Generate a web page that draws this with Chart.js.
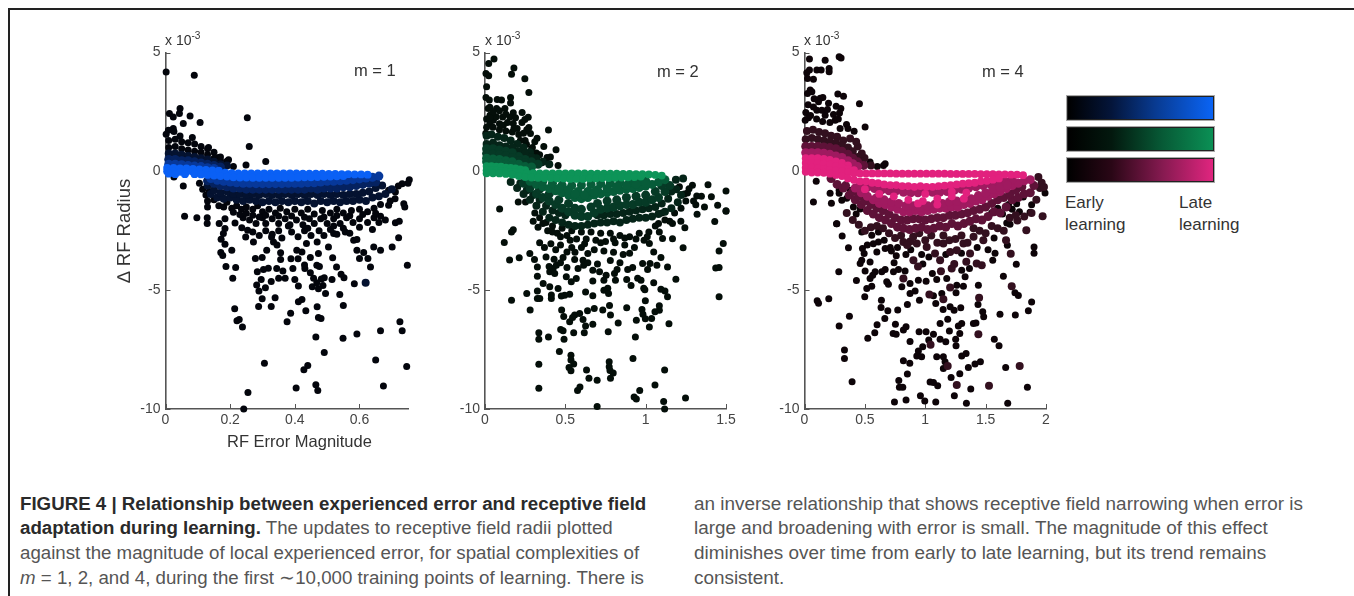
<!DOCTYPE html>
<html><head><meta charset="utf-8">
<script src="https://cdn.jsdelivr.net/npm/chart.js@4"></script>
<style>
html,body{margin:0;padding:0;background:#fff;width:1354px;height:596px;overflow:hidden;font-family:"Liberation Sans",Arial,sans-serif}
canvas{position:absolute;filter:blur(.45px)}
.t{position:absolute;white-space:nowrap;color:#333}
.cap{position:absolute;white-space:nowrap;font-size:18.7px;color:#555;line-height:24.7px}
.cap b{color:#2a2a2a}
.bar{position:absolute;left:1067px;width:145px;height:22px;border:1px solid #222;outline:1px solid #aaa}
sup{font-size:.72em;line-height:0}
</style></head><body>
<div style="position:absolute;left:8px;top:8px;width:1346px;height:2px;background:#222"></div>
<div style="position:absolute;left:8px;top:8px;width:2px;height:588px;background:#222"></div>

<canvas id="c1" width="310" height="420" style="left:110px;top:30px"></canvas>
<canvas id="c2" width="290" height="420" style="left:450px;top:30px"></canvas>
<canvas id="c3" width="290" height="420" style="left:770px;top:30px"></canvas>

<div class="t" style="left:165px;top:32px;font-size:14px">x 10<sup>-3</sup></div>
<div class="t" style="left:485px;top:32px;font-size:14px">x 10<sup>-3</sup></div>
<div class="t" style="left:804px;top:32px;font-size:14px">x 10<sup>-3</sup></div>
<div class="t" style="left:354px;top:61px;font-size:16.5px">m = 1</div>
<div class="t" style="left:657px;top:62px;font-size:16.5px">m = 2</div>
<div class="t" style="left:982px;top:62px;font-size:16.5px">m = 4</div>
<div class="t" style="left:227px;top:432px;font-size:16.5px">RF Error Magnitude</div>

<div class="bar" style="top:96px;background:linear-gradient(90deg,#000 0%,#04153a 30%,#083a90 60%,#0a64f5 100%)"></div>
<div class="bar" style="top:127px;background:linear-gradient(90deg,#000 0%,#03180e 30%,#075a36 65%,#0b9055 100%)"></div>
<div class="bar" style="top:158px;background:linear-gradient(90deg,#000 0%,#2a0716 30%,#851a50 65%,#e0257f 100%)"></div>
<div class="t" style="left:1065px;top:192px;font-size:17px;line-height:22px">Early<br>learning</div>
<div class="t" style="left:1179px;top:192px;font-size:17px;line-height:22px">Late<br>learning</div>

<div class="cap" style="left:20px;top:491.5px"><b>FIGURE 4 | Relationship between experienced error and receptive field<br>adaptation during learning.</b> The updates to receptive field radii plotted<br>against the magnitude of local experienced error, for spatial complexities of<br><i>m</i> = 1, 2, and 4, during the first ∼10,000 training points of learning. There is</div>
<div class="cap" style="left:694px;top:491.5px;font-size:18.9px">an inverse relationship that shows receptive field narrowing when error is<br>large and broadening with error is small. The magnitude of this effect<br>diminishes over time from early to late learning, but its trend remains<br>consistent.</div>

<script>
// ---------- m = 1 : [RF error magnitude, delta RF radius x 1e-3], by learning stage
const m1Early = [[.002,4.18],[.089,4.04],[.045,2.64],[.012,2.43],[.024,2.29],[.043,2.43],[.076,2.33],[.107,2.05],[.055,2.01],[.024,1.8],[.009,1.73],[.002,1.56],[.026,1.68],[.045,1.49],[.083,1.42],[.253,2.25],[.259,1.05],[.249,.27],[.31,.41],[.195,.49],[.164,.58],[.133,1],
[.01,1.3],[.03,1.35],[.05,1.25],[.07,1.2],[.09,1.15],[.11,1.05],[.13,.95],[.15,.8],[.17,.6],[.19,.42],[.01,1],[.03,1.05],[.05,.95],[.07,.9],[.09,.85],[.11,.8],[.13,.7],[.15,.55],[.17,.45],[.21,.2],
[.026,-.24],[.055,-.62],[.754,-.35],[.75,-.5],[.732,-.52],[.72,-.62],[.711,-.87],[.69,-.8],[.69,-1.43],[.71,-1.15],[.737,-1.36],[.74,-1.5],
[.059,-1.89],[.097,-1.95],[.129,-1.95],[.129,-2.2],[.166,-2.2],[.184,-1.99],[.215,-2.17],[.184,-2.41],[.179,-2.62],[.172,-2.86],[.184,-3.07],[.205,-3.32],[.171,-3.42],[.177,-3.54],[.187,-4],[.217,-4.05],[.208,-4.5],[.214,-5.78],[.221,-6.29],[.228,-6.23],[.238,-6.55],[.255,-9.31],[.242,-10],[.306,-8.08],[.404,-9.12],[.428,-8.35],[.44,-8.17],[.465,-6.97],[.465,-8.98],[.471,-9.22],[.491,-7.62],[.549,-7.02],[.592,-6.84],[.65,-7.94],[.665,-6.71],[.674,-9.03],[.725,-6.33],[.732,-6.71],[.746,-8.21],[.748,-3.95],
[.584,-4.73],[.552,-4.48],[.543,-4.33],[.529,-4.02],[.517,-3.64],[.515,-4.55],[.491,-4.48],[.482,-4.53],[.487,-4.8],[.473,-4.94],[.495,-5.14],[.454,-4.86],[.468,-4.69],[.458,-4.5],[.448,-4.27],[.431,-4.09],[.43,-3.94],[.468,-3.95],[.476,-4],[.539,-5.18],[.55,-5.64],[.469,-5.7],[.473,-6.15],[.481,-6.19],[.434,-5.87],[.422,-5.39],[.411,-5.49],[.411,-4.82],[.4,-4.55],[.394,-4.09],[.388,-3.68],[.41,-3.68],[.37,-4.5],[.35,-4.5],[.363,-4.19],[.344,-4.09],[.318,-4.08],[.303,-4.13],[.284,-4.22],[.278,-3.67],[.299,-3.63],[.356,-3.43],[.356,-3.71],[.296,-4.55],[.282,-4.78],[.309,-4.9],[.289,-5.04],[.327,-4.64],[.299,-5.36],[.339,-5.32],[.288,-5.69],[.327,-5.69],[.387,-5.97],[.376,-6.33],
[.406,-3.32],[.422,-3.39],[.448,-3.63],[.473,-3.46],[.436,-3.04],[.469,-2.97],[.504,-3.18],[.52,-2.62],[.556,-2.55],[.582,-2.9],[.592,-2.87],[.592,-3.32],[.613,-3.42],[.6,-3.67],[.626,-3.67],[.634,-4.03],[.644,-3.18],[.665,-3.32],[.701,-3.18],[.721,-2.79],[.711,-2.16],[.723,-2.1],[.665,-1.89],[.272,-2.97],[.248,-2.76],[.254,-2.48],[.236,-2.37],[.334,-2.97],[.328,-2.76],[.313,-3.32],[.345,-3.1],
[.105,-.5],[.115,-.75],[.125,-1],[.135,-.85],[.13,-1.25],[.13,-1.5],[.15,-1.2],[.165,-1.45],[.18,-1.5],[.19,-1.3],[.205,-1.55],[.22,-1.45],[.235,-1.6],[.25,-1.5],[.27,-1.6],[.285,-1.45],[.3,-1.7],[.32,-1.6],[.34,-1.75],[.355,-1.55],[.375,-1.7],[.4,-1.6],[.42,-1.75],[.44,-1.6],[.46,-1.8],[.485,-1.65],[.51,-1.75],[.53,-1.6],[.55,-1.75],[.575,-1.65],[.6,-1.6],[.625,-1.7],[.645,-1.55],[.665,-1.4],[.695,-1.25],
[.24,-1.95],[.26,-2.05],[.28,-2.2],[.3,-1.95],[.31,-2.2],[.33,-2],[.35,-2.2],[.37,-2],[.385,-2.25],[.405,-2.05],[.425,-2.25],[.445,-2],[.46,-2.2],[.48,-2],[.5,-2.2],[.52,-2],[.54,-2.2],[.56,-1.95],[.58,-2.15],[.6,-2],[.625,-2.15],[.645,-1.95],[.66,-2.15],
[.27,-2.55],[.29,-2.7],[.31,-2.5],[.33,-2.65],[.35,-2.5],[.36,-2.8],[.39,-2.55],[.41,-2.75],[.43,-2.5],[.45,-2.7],[.475,-2.5],[.49,-2.7],[.51,-2.45],[.53,-2.65],[.55,-2.4],[.57,-2.6],
[.21,-1.72],[.23,-1.82],[.25,-1.76],[.27,-1.85],[.29,-1.92],[.31,-1.85],[.35,-1.88],[.39,-1.88],[.43,-1.93],[.49,-1.92],[.53,-1.86],[.57,-1.87],[.61,-1.82],[.65,-1.76],[.38,-2.3],[.44,-2.4],[.52,-2.3],[.6,-2.35],[.64,-2.45],[.68,-2.05]];
const m1Dark = [[.619,-4.69],[.01,.75],[.03,.75],[.05,.7],[.07,.65],[.09,.6],[.11,.55],[.13,.5],[.15,.4],[.17,.3],[.19,.25],
[.14,-.95],[.16,-1.1],[.18,-1.15],[.2,-1.1],[.22,-1.2],[.24,-1.25],[.26,-1.2],[.28,-1.25],[.3,-1.3],[.32,-1.25],[.34,-1.3],[.36,-1.25],[.38,-1.3],[.4,-1.25],[.42,-1.3],[.44,-1.25],[.46,-1.35],[.48,-1.25],[.5,-1.3],[.52,-1.25],[.54,-1.3],[.56,-1.25],[.58,-1.25],[.6,-1.2],[.62,-1.25],[.64,-1.1],[.66,-1.05],[.68,-.95],[.7,-.75],[.67,-.6],[.65,-.7],
[.13,-.6],[.15,-.8],[.17,-.9],[.19,-.85],[.21,-.95],[.23,-.95],[.25,-1],[.27,-.95],[.29,-1],[.31,-.95],[.33,-1],[.35,-1],[.37,-.95],[.39,-1],[.41,-.95],[.43,-1],[.45,-.95],[.47,-1],[.49,-.95],[.51,-1],[.53,-.95],[.55,-1],[.57,-.95],[.59,-.95],[.61,-.9],[.63,-.85]];
const m1Mid = [[.01,.5],[.03,.5],[.05,.45],[.07,.45],[.09,.4],[.11,.35],[.13,.3],[.15,.25],[.17,.18],
[.13,-.4],[.15,-.5],[.17,-.6],[.19,-.65],[.21,-.7],[.23,-.7],[.25,-.75],[.27,-.75],[.29,-.75],[.31,-.75],[.33,-.75],[.35,-.75],[.37,-.75],[.39,-.75],[.41,-.75],[.43,-.75],[.45,-.7],[.47,-.75],[.49,-.7],[.51,-.7],[.53,-.7],[.55,-.65],[.57,-.65],[.59,-.6],[.61,-.55],[.63,-.5],[.65,-.45]];
const m1Bright = [[.01,.3],[.03,.3],[.05,.28],[.07,.25],[.09,.22],[.11,.2],[.13,.15],[.15,.12],
[.14,-.3],[.16,-.38],[.18,-.42],[.2,-.45],[.22,-.48],[.24,-.5],[.26,-.5],[.28,-.52],[.3,-.52],[.32,-.52],[.34,-.52],[.36,-.52],[.38,-.5],[.4,-.5],[.42,-.5],[.44,-.48],[.46,-.48],[.48,-.45],[.5,-.42],[.52,-.42],[.54,-.4],[.56,-.38],[.58,-.35],[.6,-.32],[.62,-.28],[.64,-.25],[.66,-.2]];
const m1Late = [[.005,.14],[.025,.14],[.045,.12],[.065,.12],[.085,.1],[.105,.08],[.125,.06],[.145,.04],[.165,.03],
[.005,0],[.025,0],[.045,-.02],[.065,-.02],[.085,-.02],[.105,-.03],[.125,-.03],[.145,-.05],[.165,-.05],[.185,-.06],[.205,-.08],[.225,-.09],[.245,-.09],[.265,-.09],[.285,-.09],[.305,-.09],[.325,-.09],[.345,-.09],[.365,-.09],[.385,-.09],[.405,-.09],[.425,-.1],[.445,-.1],[.465,-.1],[.485,-.1],[.505,-.11],[.525,-.11],[.545,-.12],[.565,-.12],[.585,-.13],[.605,-.13],[.625,-.14],
[.01,-.1],[.03,-.12],[.06,-.12],[.09,-.12],[.11,-.13],[.13,-.15],[.15,-.18],[.17,-.2],[.19,-.22],[.21,-.25],[.23,-.26],[.25,-.26],[.27,-.27],[.29,-.27],[.31,-.27],[.33,-.27],[.35,-.27],[.37,-.27],[.39,-.27],[.41,-.26],[.43,-.25],[.45,-.25],[.47,-.24],[.49,-.23],[.51,-.22],[.53,-.21],[.55,-.2]];

// ---------- m = 2
const m2Early = [[.056,4.73],[.023,4.54],[.18,4.35],[.165,4.09],[.006,4.12],[.023,4.02],[.248,3.9],[.01,3.56],[.273,3.32],[.006,3.11],[.027,3],[.076,3.02],[.103,3],[.159,3.11],[.159,2.88],[.072,2.64],[.124,2.64],[.02,2.64],[.176,2.46],[.231,2.48],[.269,2.28],[.248,2.18],[.155,2.29],[.11,2.29],[.031,2.36],[.052,2.15],[.114,1.94],[.176,2.01],[.273,1.84],[.395,1.74],[.283,1.59],[.324,1.39],[.31,1.24],[.258,1.14],[.366,1.05],[.295,1],[.442,.91],[.32,.77],[.407,.6],[.386,.58],[.455,.25],[.316,.6],
[.01,2.2],[.03,2],[.07,2.3],[.09,2],[.14,2.05],[.2,1.8],[.01,1.85],[.05,1.85],[.09,1.75],[.13,1.7],[.17,1.65],[.21,1.55],[.005,1.6],[.25,1.3],[.22,1.3],[.29,.95],[.34,.7],[.38,.45],[.35,.35],
[.091,-1.58],[.207,-1.29],[.252,-1.29],[.12,-2.99],[.153,-3.73],[.213,-3.64],[.176,-2.46],[.165,-2.55],[.165,-5.42],[.26,-5.14],[.281,-5.83],[.326,-5.35],[.341,-5.35],[.326,-5.04],[.335,-6.79],[.335,-7.06],[.395,-6.97],[.335,-8.12],[.335,-9.13],[.463,-7.58],[.535,-7.74],[.535,-7.94],[.552,-8.11],[.523,-8.25],[.535,-8.39],[.632,-8.36],[.647,-8.71],[.698,-8.79],[.576,-9.22],[.591,-9.07],[.698,-9.9],[.773,-8.01],[.773,-8.22],[.778,-8.38],[.798,-8.49],[.781,-8.71],[.921,-7.88],[.963,-9.22],[1.058,-8.99],[1.118,-8.36],[.928,-9.5],[.942,-9.58],[1.112,-9.68],[1.118,-10],[1.248,-9.54],
[.477,-5.83],[.49,-6.11],[.558,-6.05],[.589,-5.98],[.638,-5.87],[.68,-5.77],[.733,-5.83],[.775,-5.64],[.781,-6.05],[.527,-6.33],[.545,-6.15],[.61,-6.23],[.626,-6.51],[.671,-6.43],[.829,-6.38],[.471,-6.65],[.486,-6.71],[.552,-6.79],[.618,-6.79],[.492,-7.06],[.767,-6.75],[.882,-5.74],[.977,-5.81],[.983,-6.01],[.998,-6.2],[.998,-5.45],[.942,-6.27],[.936,-6.97],[1.023,-6.55],[1.037,-6.19],[1.058,-5.91],[1.085,-5.66],[1.085,-5.85],[1.145,-6.41],[1.136,-5.28],[1.12,-5.04],[1.095,-4.96],[1.188,-4.54],[1.05,-4.69],[.988,-4.92],[.995,-4.98],[.971,-4.58],[.95,-4.5],[.909,-4.8],[.882,-4.55],[.812,-4.58],[.764,-4.92],[.74,-5],[.769,-5.14],[.671,-5.24],[.626,-5.08],[.527,-5.17],[.496,-5.21],[.475,-5.25],[.413,-5.35],[.413,-5.2],[.455,-4.93],[.403,-4.86],[.362,-4.72],[.326,-4.41],[.326,-4.03],[.308,-3.71],[.279,-3.46],
[.403,-4.23],[.424,-4.09],[.434,-4.3],[.399,-4],[.444,-3.95],[.51,-4.05],[.486,-3.63],[.51,-3.39],[.558,-3.71],[.61,-3.74],[.64,-3.46],[.579,-4.09],[.614,-3.95],[.506,-4.44],[.537,-4.65],[.568,-4.51],[.671,-4.16],[.713,-4.23],[.754,-4.37],[.74,-4.58],[.671,-4.61],[.806,-4.3],[.822,-4.13],[.888,-4.13],[.919,-4.05],[.981,-3.88],[1.012,-4.13],[1.027,-3.88],[1.07,-3.95],[1.136,-4.03],[1.095,-3.63],[1.05,-3.39],[1.023,-3.04],[1.233,-3.22],[1.167,-2.84],[1.105,-2.83],[1.085,-2.55],[1.167,-2.2],[1.244,-2.37],[1.219,-2.1],[1.43,-2.11],[1.483,-3.04],[1.457,-3.35],[1.436,-4.07],[1.457,-4.05],[1.457,-5.28],[1.32,-1.81],[1.5,-1.68],
[1.291,-.59],[1.27,-.73],[1.26,-.91],[1.388,-.56],[1.5,-.83],[1.318,-1.04],[1.347,-1.05],[1.409,-1.07],[1.298,-1.25],[1.312,-1.41],[1.366,-1.5],[1.448,-1.43],[1.5,-1.66],[1.15,-2.1],
[.3,-2.1],[.33,-2.35],[.36,-2.2],[.39,-2.5],[.42,-2.3],[.45,-2.6],[.48,-2.4],[.51,-2.7],[.54,-2.5],[.57,-2.85],[.6,-2.55],[.63,-2.85],[.66,-2.55],[.69,-2.9],[.72,-2.6],[.75,-2.95],[.78,-2.6],[.81,-3],[.84,-2.7],[.87,-3.1],[.9,-2.75],[.93,-3.2],[.96,-2.6],[.99,-2.9],[1.02,-2.55],[1.06,-2.3],[.34,-3],[.37,-3.2],[.41,-3.05],[.44,-3.3],[.47,-3.1],[.54,-3.2],[.6,-3.2],[.68,-3.3],[.74,-3.35],[.8,-3.4],[.86,-3.5],[.9,-3.45],[.38,-3.6],[.43,-3.7],[.47,-3.85],[.56,-3.4],[.64,-3.85],[.7,-3.9],[.78,-3.75],[.84,-3.85],
[.31,-1.75],[.34,-1.95],[.38,-2.15],[.42,-2.55],[.47,-2.75],[.53,-2.9],[.62,-3.05],[.72,-3],[.8,-2.85],[.87,-2.8],[.94,-2.85],[1.01,-2.75],[1.08,-2.2],[1.12,-2.05],[1.1,-1.75],[1.18,-1.75],[1.22,-1.55],[1.25,-1.25],[1.24,-.95],[1.21,-.65],[.03,2.7],[.05,2.5],[.09,2.55],[.13,2.4],[.19,2.25],[.23,2.05],[.26,1.75],[.03,2.25],[.1,1.95],[.18,1.8],[.24,1.6]];
const m2Dark = [[.01,1.5],[.04,1.55],[.08,1.45],[.12,1.4],[.16,1.3],[.2,1.15],[.24,1],[.28,.8],[.32,.55],[.36,.4],[.4,.3],[.01,1.15],[.05,1.2],[.09,1.1],[.13,1.05],[.17,1],[.21,.85],[.25,.75],[.29,.6],
[.16,-.45],[.2,-.7],[.24,-.95],[.28,-1.2],[.32,-1.45],[.36,-1.7],[.4,-1.95],[.44,-2.05],[.48,-2.15],[.52,-2.25],[.56,-2.3],[.6,-2.3],[.64,-2.25],[.68,-2.2],[.72,-2.15],[.76,-2.15],[.8,-2.1],[.84,-2.15],[.88,-2.05],[.92,-2],[.96,-1.95],[1,-1.95],[1.04,-1.9],[1.08,-1.8],[1.12,-1.7],[1.16,-1.55],[1.2,-1.3],[1.22,-1],[1.19,-.75],[1.233,-.3],[1.188,-.35],
[.22,-.5],[.26,-.8],[.3,-1],[.34,-1.2],[.38,-1.45],[.42,-1.65],[.46,-1.75],[.5,-1.85],[.7,-1.85],[.74,-1.85],[.78,-1.8],[.82,-1.8],[.86,-1.75],[.9,-1.7],[.94,-1.65],[.98,-1.6],[1.02,-1.55],[1.06,-1.5],[1.1,-1.35],[1.14,-1.15],[1.16,-.85]];
const m2Mid = [[.01,.95],[.05,.95],[.09,.9],[.13,.85],[.17,.78],[.21,.62],[.25,.5],[.29,.4],[.33,.3],[.01,.75],[.05,.72],[.09,.7],[.13,.65],[.17,.58],[.21,.45],[.25,.35],
[.24,-.5],[.28,-.7],[.32,-.95],[.36,-1.1],[.4,-1.25],[.44,-1.4],[.48,-1.55],[.52,-1.7],[.56,-1.85],[.6,-1.9],[.64,-1.9],[.68,-1.75],[.72,-1.6],[.76,-1.55],[.8,-1.5],[.84,-1.45],[.88,-1.4],[.92,-1.4],[.96,-1.3],[1,-1.3],[1.04,-1.2],[1.08,-1.1],[1.12,-.85],[1.15,-.6],
[.34,-.75],[.4,-.95],[.46,-1.2],[.52,-1.35],[.56,-1.55],[.6,-1.6],[.66,-1.5],[.7,-1.35],[.76,-1.25],[.82,-1.2],[.88,-1.1],[.94,-1.05],[1,-1],[1.06,-.85],[1.1,-.6]];
const m2Bright = [[.01,.55],[.05,.52],[.09,.5],[.13,.45],[.17,.4],[.21,.3],[.25,.2],[.29,.18],[.01,.4],[.05,.38],[.09,.35],[.13,.3],[.17,.25],
[.28,-.42],[.32,-.55],[.36,-.65],[.4,-.72],[.44,-.82],[.48,-.9],[.52,-1],[.56,-1.1],[.6,-1.15],[.64,-1.1],[.68,-1],[.72,-.95],[.76,-.9],[.8,-.85],[.84,-.8],[.88,-.75],[.92,-.72],[.96,-.68],[1,-.62],[1.04,-.55],[1.08,-.45],[1.12,-.35],
[.36,-.42],[.42,-.5],[.48,-.58],[.54,-.6],[.6,-.58],[.66,-.55],[.72,-.52],[.78,-.5],[.84,-.48],[.9,-.45],[.96,-.42],[1,-.4],[.46,-.72],[.52,-.78],[.58,-.85],[.64,-.85],[.7,-.78],[.76,-.72],[.82,-.65],[.88,-.6],[.94,-.55],[1,-.5],[.56,-.95],[.62,-1],[.68,-.88]];
const m2Late = [[.01,.22],[.04,.22],[.07,.2],[.1,.2],[.13,.16],[.16,.14],[.19,.12],[.22,.08],[.25,.05],
[.01,.05],[.04,.05],[.07,.03],[.1,.02],[.13,0],[.16,-.02],[.19,-.03],[.22,-.06],[.26,-.08],[.3,-.08],[.34,-.09],[.38,-.09],[.42,-.09],[.46,-.09],[.5,-.09],[.54,-.09],[.58,-.09],[.62,-.09],[.66,-.1],[.7,-.1],[.74,-.1],[.78,-.1],[.82,-.1],[.86,-.11],[.9,-.11],[.94,-.12],[.98,-.12],[1.02,-.13],[1.06,-.15],[1.1,-.18],
[.01,-.08],[.05,-.08],[.09,-.09],[.13,-.11],[.17,-.14],[.21,-.2],[.25,-.24],[.29,-.26],[.33,-.27],[.37,-.28],[.41,-.28],[.45,-.3],[.49,-.3],[.53,-.32],[.57,-.32],[.61,-.32],[.65,-.3],[.69,-.3],[.73,-.28],[.77,-.28],[.81,-.27],[.85,-.26],[.89,-.25],[.93,-.24],[.97,-.22]];

// ---------- m = 4
const m4Early = [[.041,4.73],[.171,4.67],[.287,4.82],[.303,4.77],[.041,4.26],[.102,4.26],[.138,4.26],[.204,4.33],[.204,4.19],[.019,4.15],[.025,3.91],[.074,3.87],[.047,3.42],[.025,3.28],[.061,3.35],[.276,3.25],[.323,3.16],[.13,3.07],[.152,3.11],[.116,2.93],[.199,2.86],[.262,2.74],[.301,2.64],[.455,2.84],[.074,2.71],[.102,2.57],[.143,2.57],[.011,2.48],[.171,2.36],[.24,2.39],[.254,2.15],[.006,2.15],[.033,2.25],[.502,1.87],[.348,1.97],[.411,1.69],[.295,1.8],[.654,.25],[.668,.32],[.543,.39],[.603,.2],
[.097,-.42],[.226,-.31],[.212,-.92],[.287,-.8],[.287,-.92],[.074,-1.29],[.223,-1.34],[.309,-1.22],[.35,-1.13],[.378,-.8],[.405,-1.5],[.461,-1.58],[.428,-1.79],[.268,-2.21],[.265,-2.21],[.312,-2.72],[.364,-3.22],[.284,-4.23],[.43,-4.59],[.499,-5.28],[.105,-5.45],[.116,-5.55],[.201,-5.36],[.287,-6.51],[.372,-6.1],[.331,-7.52],[.331,-7.88],[.394,-8.85],[.524,-7.02],[.582,-6.79],[.601,-6.46],[.665,-6.19],[.634,-5.73],[.637,-5.42],[.69,-5.87],[.772,-5.83],[.753,-6.43],[.734,-6.82],[.759,-6.86],[.819,-6.68],[.841,-6.54],[.852,-5.6],[.952,-5.42],[.874,-7.16],[.949,-6.75],[1.007,-6.75],[1.068,-6.85],[1.029,-7.1],[.979,-7.38],[.943,-7.56],[.93,-7.77],[.97,-7.8],[.819,-7.97],[.872,-8.08],[.852,-8.53],[.781,-8.8],[.786,-9.08],[.814,-9.08],[.745,-9.71],[.841,-9.62],[.96,-9.44],[.996,-9.66],[1.087,-9.71],[1.04,-8.86],[1.068,-8.89],[1.103,-9.02],[1.095,-7.8],[1.15,-7.8],[1.164,-8.01],[1.15,-8.3],[1.214,-8.67],[1.286,-8.52],[1.241,-9.44],[1.377,-9.16],[1.341,-9.76],[1.683,-9.76],[1.846,-9.08],[1.666,-8.25],[1.457,-8.01],[1.412,-8.11],[1.357,-8.25],[1.302,-7.77],[1.338,-7.66],[1.611,-7.34],[1.572,-7.06],[1.123,-7.07],[1.17,-7.17],[1.255,-7.34],[1.252,-7.06],[1.286,-6.82],[1.274,-6.51],[1.302,-6.4],[1.2,-6.72],[1.123,-6.4],[1.186,-6.22],[1.399,-6.4],[1.42,-6.38],[1.484,-6.12],[1.476,-5.91],[1.437,-5.6],[1.44,-4.79],[1.619,-6.01],[1.746,-6.05],[1.854,-5.87],[1.881,-5.5],[1.771,-5.22],[1.743,-5.11],[1.647,-4.41],[1.754,-3.91],[1.901,-3.18],[1.901,-3.45],[1.68,-3.11],[1.559,-3.74],[1.578,-3.45],[1.57,-2.8],[1.702,-2.23],[1.675,-2.17],
[1.239,-5.84],[1.206,-5.7],[1.294,-5.74],[1.148,-5.81],[1.087,-5.56],[1.068,-5.24],[1.137,-5.14],[1.255,-5.11],[1.261,-4.79],[1.316,-4.83],[1.33,-4.44],[1.366,-4.09],[1.302,-4.16],[1.178,-4.51],[1.095,-4.55],[1.059,-4.3],[1.007,-4.62],[.943,-4.58],[.874,-4.72],[.916,-5.04],[.874,-5.14],[.806,-4.86],[.737,-4.23],[.778,-4.13],[.833,-4.19],[.742,-3.85],[.668,-4.13],[.64,-4.23],[.585,-4.23],[.543,-4.51],[.565,-4.37],[.681,-4.65],[.695,-4.75],[.557,-4.83],[.516,-4.93],[.502,-4.19],[.461,-3.88],[.474,-3.74],[.543,-3.81],[.494,-3.46],[.48,-3.25],[.474,-2.55],[.557,-2.69],[.612,-2.55],[.612,-2.97],[.599,-3.39],[.668,-3.25],[.71,-3.2],
[1.992,-.91],[1.868,-1.72],[1.812,-1.08],[1.881,-1.41],[1.757,-1.36],[1.78,-1.7],[1.72,-1.6],[1.69,-1.4],[1.64,-1.8],[1.6,-1.55],[1.55,-1.75],
[.52,-3.1],[.57,-3.05],[.66,-2.9],[.72,-3.35],[.77,-3.2],[.84,-3.5],[.88,-3.3],[.97,-3.5],[1.03,-3.6],[1.17,-3.5],[1.3,-3.45],[1.43,-3.2],[1.52,-3.3],[.76,-3.55],[.98,-3.9],[.03,2.8],[.08,3.05],[.19,2.6],[.05,2.35],[.1,2.2],[.15,2.1],[.21,2.05],[.28,2.2],[.29,2.45],[.36,1.8]];
const m4Dark = [[.441,1.05],[.428,1.24],[.378,1.38],[.497,.56],[.474,.75],[.02,1.7],[.07,1.75],[.12,1.65],[.17,1.6],[.22,1.5],[.27,1.45],[.32,1.3],[.01,1.35],[.06,1.4],[.11,1.35],[.16,1.3],[.21,1.25],[.26,1.2],[.31,1.1],[.36,1],[.4,.85],[.44,.6],[.48,.4],[.55,.25],
[.875,-2.95],[1.081,-3.46],[1.123,-3.74],[1.206,-3.39],[1.371,-3.46],[1.426,-3.88],[1.468,-3.95],[1.481,-2.9],[1.4,-2.4],[1.316,-3.04],[.819,-2.97],[.93,-3.04],[1.012,-3.18],[1.15,-3.04],[1.261,-3.32],[.902,-3.74],[.94,-4],[1.34,-3.8],[1.219,-4.09],[1.24,-3.9],[1.13,-4.2],[.819,-4.51],[1.034,-5.18],[1.15,-5.38],[1.206,-4.89],[1.044,-7.3],[1.186,-8.19],[1.261,-8.99],[1.528,-9.02],[1.782,-8.19],[1.44,-6.86],[1.446,-5.32],[1.716,-4.83],[1.708,-3.47],[1.669,-2.9],[1.837,-2.48],[1.763,-2.07],[1.972,-1.89],
[.35,-1.75],[.4,-2.05],[.45,-2.25],[.5,-2.5],[.55,-2.35],[.6,-2.3],[.65,-2.4],[.7,-2.6],[.75,-2.8],[.8,-2.7],[.85,-3.1],[.9,-2.75],[.95,-2.6],[1,-2.9],[1.05,-2.7],[1.1,-3],[1.15,-2.7],[1.2,-2.9],[1.25,-2.85],[1.3,-2.7],[1.35,-3],[1.4,-2.75],[1.45,-2.5],[1.5,-2.6],[1.55,-2.3],[1.6,-2.4],[1.65,-2.5],[1.7,-1.95],[1.75,-1.85],[1.82,-1.9],[1.88,-1.75],[1.92,-1.2],[1.95,-.7],[1.937,-.24],[1.964,-.48],[1.983,-.66]];
const m4Mid = [[.01,1.05],[.06,1.05],[.11,1.05],[.16,1.02],[.21,1],[.26,.95],[.31,.85],[.36,.72],[.4,.55],[.44,.4],[.49,.25],
[.22,-.3],[.27,-.55],[.32,-.7],[.37,-1],[.42,-1.2],[.47,-1.4],[.52,-1.65],[.57,-1.8],[.62,-1.95],[.67,-2.05],[.72,-2.2],[.77,-2.35],[.82,-2.4],[.87,-2.45],[.92,-2.4],[.97,-2.35],[1.02,-2.45],[1.07,-2.4],[1.12,-2.3],[1.17,-2.35],[1.22,-2.2],[1.27,-2.3],[1.32,-2.2],[1.37,-2.1],[1.42,-2],[1.47,-2.05],[1.52,-1.9],[1.57,-1.7],[1.62,-1.75],[1.67,-1.5],[1.72,-1.2],[1.77,-1.1],[1.82,-.95],[1.87,-.9],[1.9,-.6],
[.34,-.6],[.4,-.85],[.45,-1.05],[.5,-1.25],[.55,-1.4],[.6,-1.55],[.65,-1.65],[.7,-1.8],[.75,-1.95],[.8,-2.05],[.85,-2.05],[.9,-2],[.95,-2],[1,-2.05],[1.05,-2],[1.1,-1.95],[1.15,-1.95],[1.2,-1.85],[1.25,-1.85],[1.3,-1.8],[1.35,-1.75],[1.4,-1.65],[1.45,-1.6],[1.5,-1.5],[1.55,-1.35],[1.6,-1.2],[1.65,-1.1],[1.7,-.95],[1.75,-.8],[1.8,-.65]];
const m4Bright = [[.01,.78],[.06,.78],[.11,.78],[.16,.76],[.21,.72],[.26,.65],[.31,.58],[.36,.45],[.4,.32],[.44,.2],
[.42,-.7],[.47,-.9],[.52,-1.05],[.57,-1.2],[.62,-1.35],[.67,-1.4],[.72,-1.5],[.77,-1.6],[.82,-1.7],[.87,-1.7],[.92,-1.65],[.97,-1.7],[1.02,-1.65],[1.07,-1.6],[1.12,-1.55],[1.17,-1.55],[1.22,-1.5],[1.27,-1.5],[1.32,-1.4],[1.37,-1.35],[1.42,-1.25],[1.47,-1.2],[1.52,-1.05],[1.57,-.95],[1.62,-.85],[1.67,-.72],[1.72,-.6],[1.77,-.5],[1.82,-.4],[1.87,-.35],
[.46,-.6],[.52,-.68],[.58,-.72],[.64,-.78],[.7,-.82],[.76,-.82],[.82,-.88],[.88,-.9],[.94,-.9],[1,-.8],[1.06,-.88],[1.12,-.88],[1.18,-.85],[1.24,-.8],[1.3,-.75],[1.36,-.7],[1.42,-.65],[1.48,-.6],[1.54,-.55],[1.6,-.5],[1.66,-.42],[1.72,-.35],
[.6,-1.1],[.66,-1.2],[.72,-1.28],[.78,-1.35],[.84,-1.45],[.9,-1.45],[.96,-1.5],[1.02,-1.45],[1.08,-1.38],[1.14,-1.35],[1.2,-1.28],[1.26,-1.25],[1.32,-1.2],[1.38,-1.15],[1.44,-1.02],[1.5,-.9],[1.56,-.75],[1.62,-.68],[1.68,-.58]];
const m4Late = [[.01,.55],[.06,.55],[.11,.55],[.16,.52],[.21,.48],[.26,.42],[.31,.35],[.36,.25],[.01,.35],[.06,.35],[.11,.35],[.16,.32],[.21,.28],[.26,.22],[.31,.18],[.36,.1],[.41,.05],
[.01,.15],[.06,.15],[.11,.12],[.16,.1],[.21,.06],[.26,.03],[.31,0],[.36,-.05],[.41,-.08],[.46,-.09],[.51,-.09],[.56,-.09],[.61,-.09],[.66,-.09],[.71,-.09],[.76,-.1],[.81,-.1],[.86,-.1],[.91,-.1],[.96,-.1],[1.01,-.1],[1.06,-.1],[1.11,-.1],[1.16,-.1],[1.21,-.11],[1.26,-.11],[1.31,-.11],[1.36,-.11],[1.41,-.11],[1.46,-.12],[1.51,-.12],[1.56,-.12],[1.61,-.13],[1.66,-.13],[1.71,-.14],[1.76,-.14],[1.81,-.16],
[.01,-.02],[.06,-.05],[.11,-.05],[.16,-.06],[.21,-.1],[.26,-.15],[.31,-.2],[.36,-.3],[.41,-.36],[.46,-.42],[.51,-.42],[.56,-.48],[.61,-.5],[.66,-.55],[.71,-.58],[.76,-.58],[.81,-.62],[.86,-.62],[.91,-.65],[.96,-.62],[1.01,-.65],[1.06,-.65],[1.11,-.62],[1.16,-.6],[1.21,-.58],[1.26,-.55],[1.31,-.52],[1.36,-.5],[1.41,-.48],[1.46,-.42],[1.51,-.4],[1.56,-.35],[1.61,-.3],
[.5,-.75],[.62,-.95],[.74,-1.05],[.86,-1.2],[.98,-1.25],[1.1,-1.15],[1.22,-1.05],[1.34,-.9],[.94,-1.35],[1.1,-1.4],[1,-.95],[1.22,-.85],[1.32,-1.15]];

const yTicks = [-10,-5,0,5];
const xMax = {m1:.75, m2:1.5, m4:2};
const xStep = {m1:.2, m2:.5, m4:.5};
const bluePal  = ['#03050c','#041230','#052260','#07389a','#0a60f5'];
const greenPal = ['#040e09','#052418','#063a26','#075c39','#0d9458'];
const pinkPal  = ['#0d0408','#33101f','#5e1238','#a01a60','#e2217e'];
const stageRadius = [3.5,4,4.5,4.5,3.9];

const inwardTicks = {id:'inwardTicks', beforeDatasetsDraw(ch){
  const c=ch.ctx, a=ch.chartArea, sx=ch.scales.x, sy=ch.scales.y;
  c.save(); c.strokeStyle='#555'; c.lineWidth=1; c.beginPath();
  sx.ticks.forEach(t=>{const p=Math.round(sx.getPixelForValue(t.value))+.5; c.moveTo(p,a.bottom); c.lineTo(p,a.bottom-5);});
  sy.ticks.forEach(t=>{const p=Math.round(sy.getPixelForValue(t.value))+.5; c.moveTo(a.left,p); c.lineTo(a.left+5,p);});
  c.stroke(); c.restore();
}};

function draw(id, stages, pal, key, leftW, padR, yTitle){
  new Chart(document.getElementById(id), {
    type:'scatter',
    data:{datasets:stages.map((s,i)=>({data:s.map(p=>({x:p[0],y:p[1]})),
      backgroundColor:pal[i],borderColor:pal[i],borderWidth:0,pointRadius:stageRadius[i],clip:false,order:5-i}))},
    options:{responsive:false,animation:false,events:[],
      layout:{padding:{top:22.5,right:padR,left:0,bottom:0}},
      plugins:{legend:{display:false},tooltip:{enabled:false}},
      scales:{
        x:{type:'linear',min:0,max:xMax[key],grid:{display:false,drawTicks:false},
           border:{display:true,color:'#555',width:1.6},
           afterFit(s){s.height=41;},
           ticks:{stepSize:xStep[key],includeBounds:false,color:'#444',font:{size:14,family:'"Liberation Sans"'},padding:3,maxRotation:0,autoSkip:false,callback:v=>String(+v.toFixed(2))}},
        y:{type:'linear',min:-10,max:5,grid:{display:false,drawTicks:false},
           border:{display:true,color:'#555',width:1.6},
           afterFit(s){s.width=leftW;},
           title:{display:!!yTitle,text:yTitle,color:'#333',font:{size:18.5,family:'"Liberation Sans"'},padding:{top:4,bottom:0}},
           ticks:{stepSize:5,color:'#444',font:{size:14,family:'"Liberation Sans"'},padding:5,callback:v=>yTicks.includes(v)?String(v):''}}
      }},
    plugins:[inwardTicks]
  });
}
draw('c1',[m1Early,m1Dark,m1Mid,m1Bright,m1Late],bluePal,'m1',55.5,12,'∆ RF Radius');
draw('c2',[m2Early,m2Dark,m2Mid,m2Bright,m2Late],greenPal,'m2',35,14,'');
draw('c3',[m4Early,m4Dark,m4Mid,m4Bright,m4Late],pinkPal,'m4',34.5,14,'');
</script>
</body></html>
